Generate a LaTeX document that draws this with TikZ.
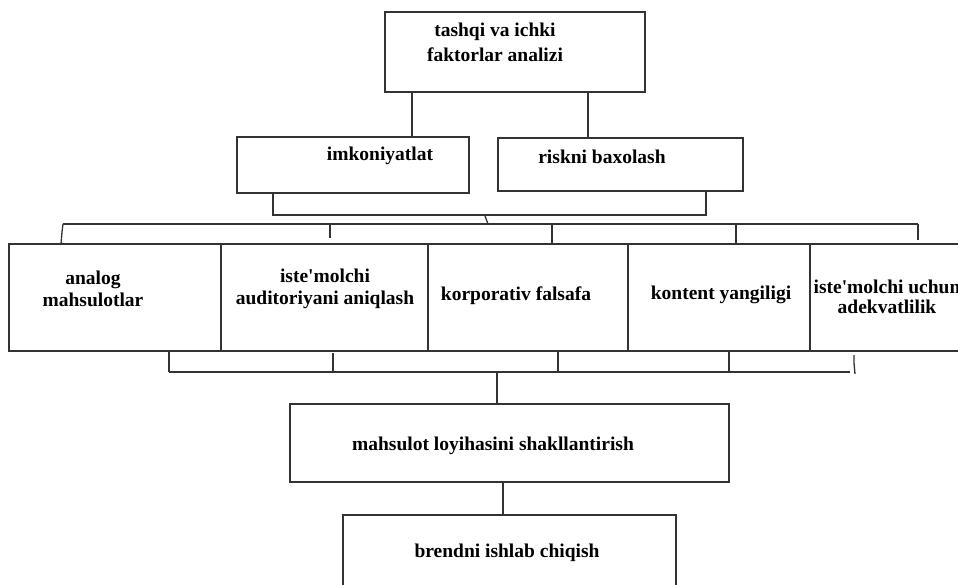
\documentclass[tikz,border=0pt]{standalone}
\usepackage{fontspec}
\setmainfont{Liberation Serif}
\begin{document}
\begin{tikzpicture}[x=1pt, y=-1pt, line width=1.3pt, draw=black!80,
  box/.style={shape=rectangle, draw=black!80, inner sep=0pt, outer sep=0pt},
  lbl/.style={shape=rectangle, draw=none, inner sep=0pt, align=center, font=\fontsize{19.5}{22}\selectfont\bfseries}]
%%%%%%%%%%%%%%%%%%%%%%%%%%%%%%%%%%%%%%%%%%% HELP LINES
%\draw[help lines] (0,0) grid +(958,585);
\path[use as bounding box, clip] (0,0) rectangle (958,585);

%%%%%%%%%%%%%%%%%%%%%%%%%%%%%%%%%%%%%%%%%%% boxes
\node[box, minimum width=260pt, minimum height=80pt](fak) at (515,52){};
\node[box, minimum width=232pt, minimum height=56pt](imk) at (353,165){};
\node[box, minimum width=245pt, minimum height=53pt](rsk) at (620.5,164.5){};

\node[box, minimum width=212pt, minimum height=107pt](ana) at (115,297.5){};
\node[box, minimum width=207pt, minimum height=107pt](aud) at (324.5,297.5){};
\node[box, minimum width=200pt, minimum height=107pt](kor) at (528,297.5){};
\node[box, minimum width=182pt, minimum height=107pt](kon) at (719,297.5){};
\node[box, minimum width=300pt, minimum height=107pt](ade) at (960,297.5){};

\node[box, minimum width=439pt, minimum height=78pt](loy) at (509.5,443){};
\node[box, minimum width=333pt, minimum height=100pt](bre) at (509.5,565){};

%%%%% texts
\node[lbl, font=\fontsize{19.5}{25}\selectfont\bfseries](tfak) at (495,42){tashqi va ichki\\faktorlar analizi};
\node[lbl](timk) at (380,156){imkoniyatlat};
\node[lbl](trsk) at (602,157){riskni baxolash};
\node[lbl](tana) at (93,289){analog\\mahsulotlar};
\node[lbl](taud) at (325,289){iste\textquotesingle molchi\\auditoriyani aniqlash};
\node[lbl](tkor) at (516,296){korporativ falsafa};
\node[lbl](tkon) at (721,295){kontent yangiligi};
\node[lbl, font=\fontsize{19.5}{20}\selectfont\bfseries](tade) at (887,297){iste\textquotesingle molchi uchun\\adekvatlilik};
\node[lbl](tloy) at (493,446){mahsulot loyihasini shakllantirish};
\node[lbl](tbre) at (507,553){brendni ishlab chiqish};

%%%%% connectors
\coordinate (a1) at (412,0);
\coordinate (a2) at (588,0);
\draw (fak.south -| a1) -- (imk.north -| a1);
\draw (fak.south -| a2) -- (rsk.north -| a2);

\coordinate (b1) at (273,215);
\coordinate (b2) at (706,215);
\draw (imk.south -| b1) -- (b1) -- (b2) -- (rsk.south -| b2);
\draw (485,216) -- (488,224);

\coordinate (c1) at (63,224);
\coordinate (c2) at (330,224);
\coordinate (c3) at (552,224);
\coordinate (c4) at (736,224);
\coordinate (c5) at (918,224);
\draw (c1) -- (c5);
\draw (c1) -- (62,232) -- (ana.north -| 61,0);
\draw (c2) -- ([yshift=6pt]aud.north -| c2);
\draw (c3) -- (kor.north -| c3);
\draw (c4) -- (kon.north -| c4);
\draw (c5) -- ([yshift=4pt]ade.north -| c5);

\coordinate (d1) at (169,372);
\coordinate (d2) at (333,372);
\coordinate (d3) at (558,372);
\coordinate (d4) at (729,372);
\coordinate (d5) at (850,372);
\coordinate (d6) at (497,372);
\draw (d1) -- (d5);
\draw (ana.south -| d1) -- (d1);
\draw ([yshift=-2pt]aud.south -| d2) -- (d2);
\draw ([yshift=-1pt]kor.south -| d3) -- ([yshift=1pt]d3);
\draw (kon.south -| d4) -- (d4);
\draw (854,355) -- (854,363) -- (855,374);
\draw (d6) -- (loy.north -| d6);

\coordinate (e1) at (503,0);
\draw (loy.south -| e1) -- (bre.north -| e1);
\end{tikzpicture}
\end{document}
